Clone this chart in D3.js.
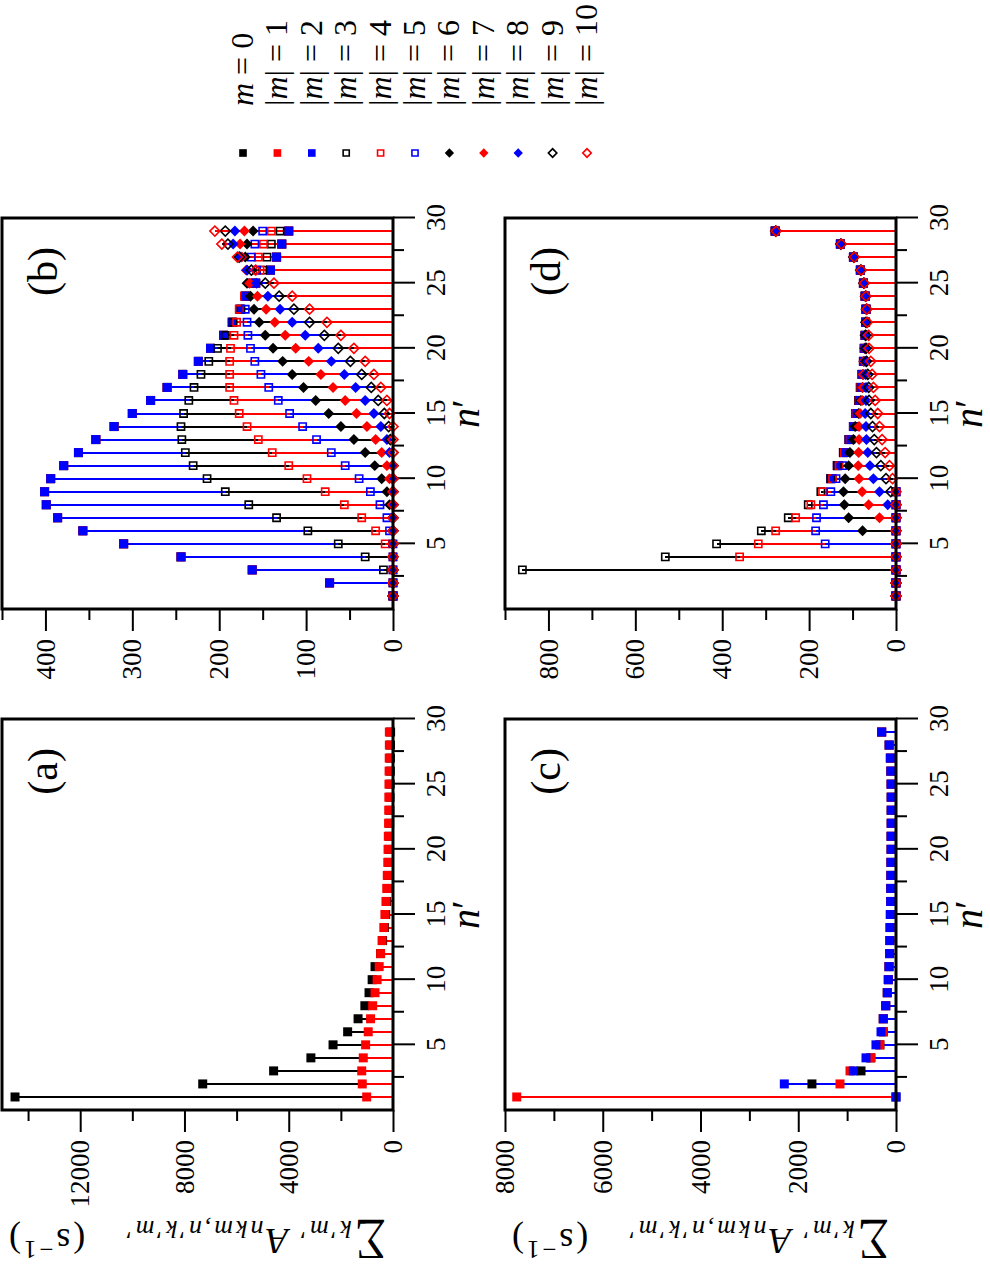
<!DOCTYPE html>
<html>
<head>
<meta charset="utf-8">
<script src="https://cdn.jsdelivr.net/npm/d3@7"></script>
<style>
  body { margin: 0; background: #fff; }
  svg { display: block; }
</style>
</head>
<body>
<div id="chart"></div>
<script>
const SERIF = '"Liberation Serif", "Times New Roman", "DejaVu Serif", serif';

// n' values on the horizontal axis of every panel
const nPrime = d3.range(1, 30);

// legend: |m| for each series
const mValues = [0, 1, 2, 3, 4, 5, 6, 7, 8, 9, 10];

// panel (a)
const a_m0 = [14500, 7300, 4580, 3150, 2300, 1740, 1340, 1080, 920, 800, 690, 480, 400, 330, 280, 240, 210, 185, 165, 150, 138, 128, 120, 113, 107, 102, 98, 95, 92];
const a_m1 = [1010, 1180, 1200, 1140, 1050, 950, 860, 780, 690, 610, 530, 475, 420, 350, 310, 270, 240, 220, 200, 190, 180, 170, 165, 160, 155, 150, 145, 140, 140];

// panel (b)
const b_m0 = [0, 73, 162, 244, 310, 357, 386, 399, 401, 394, 379, 362, 342, 321, 300, 279, 260, 242, 224, 210, 195, 185, 176, 170, 158, 141, 134, 128, 120];
const b_m1 = [0, 73, 162, 244, 310, 357, 386, 399, 401, 394, 379, 362, 342, 321, 300, 279, 260, 242, 224, 210, 195, 185, 176, 170, 158, 141, 134, 128, 120];
const b_m2 = [0, 73, 162, 244, 310, 357, 386, 399, 401, 394, 379, 362, 342, 321, 300, 279, 260, 242, 224, 210, 195, 185, 176, 170, 158, 141, 134, 128, 120];
const b_m3 = [0, 0, 11, 32, 63, 98, 134, 166, 193, 214, 230, 239, 243, 244, 241, 235, 229, 221, 212, 202, 193, 184, 175, 170, 163, 150, 145, 140, 130];
const b_m4 = [0, 0, 0, 0, 9, 20, 36, 56, 78, 99, 120, 139, 155, 168, 177, 183, 188, 188, 188, 187, 183, 180, 177, 171, 163, 153, 155, 149, 140];
const b_m5 = [0, 0, 0, 0, 0, 4, 7, 15, 26, 39, 55, 71, 88, 104, 119, 132, 143, 152, 159, 164, 167, 168, 170, 169, 163, 157, 163, 159, 150];
const b_m6 = [0, 0, 0, 0, 0, 0, 0, 4, 7, 13, 21, 32, 45, 60, 74, 89, 103, 116, 127, 138, 147, 154, 160, 164, 168, 168, 170, 168, 161];
const b_m7 = [0, 0, 0, 0, 0, 0, 0, 0, 0, 4, 7, 13, 20, 30, 42, 55, 69, 83, 97, 112, 124, 136, 146, 156, 165, 169, 174, 176, 171];
const b_m8 = [0, 0, 0, 0, 0, 0, 0, 0, 0, 0, 0, 4, 7, 14, 22, 32, 43, 56, 71, 86, 101, 116, 130, 144, 157, 168, 176, 184, 182];
const b_m9 = [0, 0, 0, 0, 0, 0, 0, 0, 0, 0, 0, 0, 3, 5, 10, 17, 25, 36, 49, 63, 79, 96, 114, 131, 147, 163, 177, 190, 193];
const b_m10 = [0, 0, 0, 0, 0, 0, 0, 0, 0, 0, 0, 0, 0, 0, 4, 7, 14, 22, 32, 45, 60, 76, 96, 116, 137, 158, 179, 197, 205];

// panel (c)
const c_m0 = [0, 1720, 716, 520, 330, 260, 260, 210, 178, 157, 143, 130, 125, 120, 115, 110, 108, 105, 103, 100, 100, 98, 98, 98, 100, 105, 115, 140, 293];
const c_m1 = [7760, 1146, 941, 510, 330, 260, 260, 210, 178, 157, 143, 130, 125, 120, 115, 110, 108, 105, 103, 100, 100, 98, 98, 98, 100, 105, 115, 140, 293];
const c_m2 = [0, 2285, 873, 614, 410, 307, 260, 210, 178, 157, 143, 130, 125, 120, 115, 110, 108, 105, 103, 100, 100, 98, 98, 98, 100, 105, 115, 140, 293];

// panel (d)
const d_m0 = [0, 0, 0, 0, 0, 0, 0, 0, 0, 150, 135, 121, 108, 98, 92, 86, 82, 78, 75, 73, 71, 70, 69, 71, 75, 82, 98, 128, 278];
const d_m1 = [0, 0, 0, 0, 0, 0, 0, 0, 0, 150, 135, 121, 108, 98, 92, 86, 82, 78, 75, 73, 71, 70, 69, 71, 75, 82, 98, 128, 278];
const d_m2 = [0, 0, 0, 0, 0, 0, 0, 0, 0, 150, 135, 121, 108, 98, 92, 86, 82, 78, 75, 73, 71, 70, 69, 71, 75, 82, 98, 128, 278];
const d_m3 = [0, 0, 860, 531, 413, 310, 248, 202, 173, 150, 135, 121, 108, 98, 92, 86, 82, 78, 75, 73, 71, 70, 69, 71, 75, 82, 98, 128, 278];
const d_m4 = [0, 0, 0, 360, 317, 277, 231, 196, 169, 146, 131, 119, 106, 97, 91, 85, 81, 77, 75, 72, 71, 70, 69, 71, 75, 82, 98, 128, 278];
const d_m5 = [0, 0, 0, 0, 163, 185, 183, 167, 150, 138, 123, 115, 104, 96, 90, 84, 80, 77, 75, 72, 71, 70, 69, 71, 75, 82, 98, 128, 278];
const d_m6 = [0, 0, 0, 0, 0, 77, 109, 119, 121, 117, 109, 106, 98, 94, 86, 81, 77, 76, 74, 72, 70, 69, 68, 70, 74, 81, 97, 127, 277];
const d_m7 = [0, 0, 0, 0, 0, 0, 38, 63, 78, 85, 87, 86, 85, 85, 83, 78, 77, 76, 74, 72, 70, 69, 68, 70, 74, 81, 97, 127, 277];
const d_m8 = [0, 0, 0, 0, 0, 0, 0, 19, 38, 52, 60, 65, 68, 69, 71, 69, 69, 70, 71, 71, 70, 69, 68, 70, 74, 81, 97, 127, 277];
const d_m9 = [0, 0, 0, 0, 0, 0, 0, 0, 12, 23, 35, 45, 50, 54, 58, 62, 63, 65, 68, 69, 70, 69, 68, 70, 74, 81, 97, 127, 277];
const d_m10 = [0, 0, 0, 0, 0, 0, 0, 0, 0, 8, 15, 25, 32, 38, 42, 48, 52, 55, 58, 62, 63, 66, 67, 69, 73, 80, 96, 126, 276];

// axis ticks
const nTicks = [5, 10, 15, 20, 25, 30];
const nMinorTicks = [2.5, 7.5, 12.5, 17.5, 22.5, 27.5];
const aTicks = [0, 4000, 8000, 12000], aMinor = [2000, 6000, 10000, 14000];
const bTicks = [0, 100, 200, 300, 400], bMinor = [50, 150, 250, 350, 450];
const cTicks = [0, 2000, 4000, 6000, 8000], cMinor = [1000, 3000, 5000, 7000];
const dTicks = [0, 200, 400, 600, 800], dMinor = [100, 300, 500, 700, 900];

// marker style per series (m = 0 .. 10)
const seriesColor = ['#000', '#f00', '#00f', '#000', '#f00', '#00f', '#000', '#f00', '#00f', '#000', '#f00'];
const seriesDiamond = [false, false, false, false, false, false, true, true, true, true, true];
const seriesFilled = [true, true, true, false, false, false, true, true, true, false, false];

// the figure is drawn upright in a 1267 x 990 frame, then turned a quarter turn
const W = 1267;
const svg = d3.select('#chart').append('svg')
    .attr('width', 990)
    .attr('height', 1267)
    .style('font-family', SERIF);
const g = svg.append('g').attr('transform', `translate(0,${W}) rotate(-90)`);

const size = 391;
const panels = [
    { label: '(a)', x0: 157, y0: 2, max: 15000, major: aTicks, minor: aMinor, series: [a_m0, a_m1], ylab: true },
    { label: '(b)', x0: 658, y0: 2, max: 450, major: bTicks, minor: bMinor,
      series: [b_m0, b_m1, b_m2, b_m3, b_m4, b_m5, b_m6, b_m7, b_m8, b_m9, b_m10] },
    { label: '(c)', x0: 157, y0: 505, max: 8000, major: cTicks, minor: cMinor, series: [c_m0, c_m1, c_m2], ylab: true },
    { label: '(d)', x0: 658, y0: 505, max: 900, major: dTicks, minor: dMinor,
      series: [d_m0, d_m1, d_m2, d_m3, d_m4, d_m5, d_m6, d_m7, d_m8, d_m9, d_m10] }
];

function symbolPath(i, legend) {
    const k = legend ? 0.85 : 1;
    if (seriesDiamond[i]) {
        return d3.symbol().type(d3.symbolSquare).size((seriesFilled[i] ? 60 : 50) * k * k)();
    }
    return d3.symbol().type(d3.symbolSquare).size((seriesFilled[i] ? 81 : 52) * k * k)();
}

function drawMarker(sel, i, legend) {
    sel.append('path')
        .attr('d', symbolPath(i, legend))
        .attr('transform', seriesDiamond[i] ? 'rotate(45)' : null)
        .attr('fill', seriesFilled[i] ? seriesColor[i] : 'none')
        .attr('stroke', seriesColor[i])
        .attr('stroke-width', seriesFilled[i] ? 0 : 1.6);
}

function styleAxis(ax) {
    ax.select('.domain').remove();
    ax.attr('font-family', SERIF).attr('font-size', 26);
    ax.selectAll('line').attr('stroke', '#000').attr('stroke-width', 2);
    ax.selectAll('text').attr('fill', '#000').style('font-family', SERIF).style('font-size', '27px');
}

panels.forEach(p => {
    const pg = g.append('g').attr('transform', `translate(${p.x0},${p.y0})`);
    const x = d3.scaleLinear().domain([0, 30]).range([0, size]);
    const y = d3.scaleLinear().domain([0, p.max]).range([size, 0]);

    pg.append('g').attr('transform', `translate(0,${size})`)
        .call(d3.axisBottom(x).tickValues(nTicks).tickSize(22).tickPadding(11).tickFormat(d3.format('d')))
        .call(styleAxis);
    pg.append('g').attr('transform', `translate(0,${size})`)
        .call(d3.axisBottom(x).tickValues(nMinorTicks).tickSize(11).tickFormat(''))
        .call(styleAxis);
    pg.append('g')
        .call(d3.axisLeft(y).tickValues(p.major).tickSize(22).tickPadding(8).tickFormat(d3.format('d')))
        .call(styleAxis);
    pg.append('g')
        .call(d3.axisLeft(y).tickValues(p.minor).tickSize(11).tickFormat(''))
        .call(styleAxis);

    const idx = p.series.map((s, i) => i);

    // stems first (crisp so that identical stems hide each other fully)
    idx.forEach(i => {
        pg.append('g').selectAll('line')
            .data(p.series[i].map((v, j) => ({ n: nPrime[j], v })))
            .join('line')
            .attr('x1', d => x(d.n)).attr('x2', d => x(d.n))
            .attr('y1', y(0)).attr('y2', d => y(d.v))
            .attr('stroke', seriesColor[i])
            .attr('stroke-width', 2)
            .attr('shape-rendering', 'crispEdges');
    });

    // then markers
    idx.forEach(i => {
        pg.append('g').selectAll('g')
            .data(p.series[i].map((v, j) => ({ n: nPrime[j], v })))
            .join('g')
            .attr('transform', d => `translate(${x(d.n)},${y(d.v)})`)
            .each(function () { drawMarker(d3.select(this), i, false); });
    });

    pg.append('rect')
        .attr('width', size).attr('height', size)
        .attr('fill', 'none').attr('stroke', '#000').attr('stroke-width', 3);

    pg.append('text')
        .attr('x', size - 29).attr('y', 55)
        .attr('text-anchor', 'end')
        .style('font-family', SERIF)
        .style('font-size', '42px')
        .text(p.label);

    const nl = pg.append('text')
        .attr('x', size / 2).attr('y', size + 86)
        .attr('text-anchor', 'middle')
        .style('font-family', SERIF)
        .style('font-size', '40px');
    nl.append('tspan').style('font-style', 'italic').text('n');
    nl.append('tspan').text('\u2032');

    if (p.ylab) {
        const yl = g.append('text')
            .attr('transform', `translate(38,${p.y0 + size / 2}) rotate(-90)`)
            .attr('text-anchor', 'middle')
            .attr('textLength', 377)
            .attr('lengthAdjust', 'spacing')
            .style('font-family', SERIF)
            .style('font-size', '36px');
        yl.append('tspan').style('font-size', '44px').text('\u2211');
        yl.append('tspan').style('font-size', '26px').style('font-style', 'italic').attr('dy', 8).text('k\u2032m\u2032');
        yl.append('tspan').style('font-style', 'italic').attr('dy', -8).text('\u2009A');
        yl.append('tspan').style('font-size', '26px').style('font-style', 'italic').attr('dy', 8).text('nkm,n\u2032k\u2032m\u2032');
        yl.append('tspan').attr('dy', -8).text('\u2003(s');
        yl.append('tspan').style('font-size', '25px').attr('dy', -12).text('\u22121');
        yl.append('tspan').attr('dy', 12).text(')');
    }
});

// legend column on the right of the upright figure
const ly = d3.scaleLinear().domain([0, 10]).range([243, 587]);
const legend = g.append('g');
mValues.forEach((m, i) => {
    const row = legend.append('g').attr('transform', `translate(1114,${ly(i)})`);
    drawMarker(row, i, true);
    const t = row.append('text')
        .attr('x', 47).attr('y', 10)
        .style('font-family', SERIF)
        .style('font-size', '32px');
    if (m === 0) {
        t.append('tspan').style('font-style', 'italic').text('m');
        t.append('tspan').text('\u2005=\u2005' + m);
    } else {
        t.append('tspan').text('|');
        t.append('tspan').style('font-style', 'italic').text('m');
        t.append('tspan').text('|\u2005=\u2005' + m);
    }
});
</script>
</body>
</html>
